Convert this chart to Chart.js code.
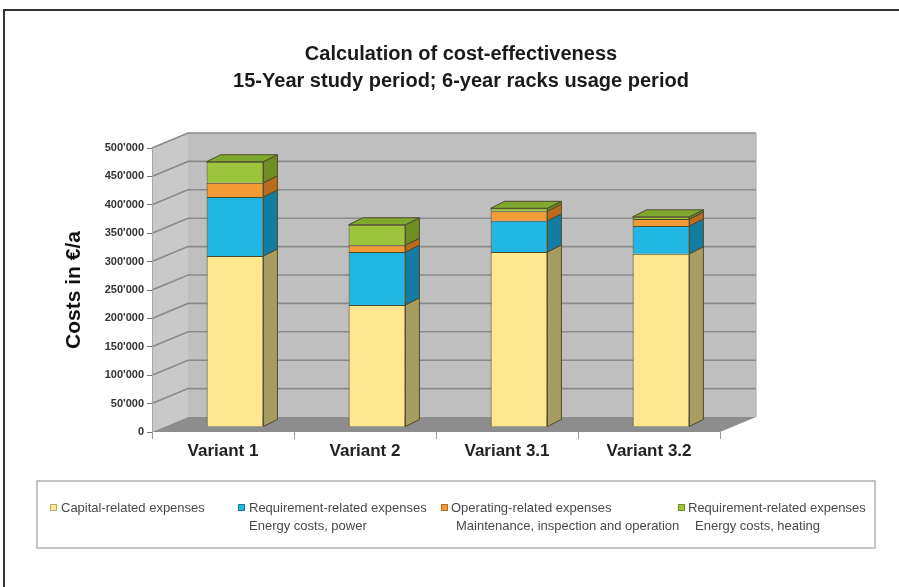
<!DOCTYPE html>
<html><head><meta charset="utf-8">
<script src="https://cdn.jsdelivr.net/npm/chart.js@4.4.0/dist/chart.umd.min.js"></script>
<style>html,body{margin:0;padding:0;background:#fff;}canvas{display:block;}</style>
</head><body>
<canvas id="c" width="899" height="587"></canvas>
<script>
const categories = ['Variant 1', 'Variant 2', 'Variant 3.1', 'Variant 3.2'];
const capital   = [301000, 215000, 308000, 305000];
const power     = [104000,  93000,  55000,  49000];
const operating = [ 25000,  12000,  17000,  12000];
const heating   = [ 37000,  36000,   5000,   4000];
const seriesNames = ['Capital-related expenses', 'Requirement-related expenses', 'Operating-related expenses', 'Requirement-related expenses'];
const seriesSub   = ['', 'Energy costs, power', 'Maintenance, inspection and operation', 'Energy costs, heating'];
const titleLines = ['Calculation of cost-effectiveness', '15-Year study period; 6-year racks usage period'];
const yTitle = 'Costs in €/a';
const yMax = 500000, yStep = 50000;

const FONT = "'Liberation Sans', Arial, Helvetica, sans-serif";
Chart.defaults.font.family = FONT;

const frontColors = ['#FFE68F', '#22B6E4', '#F39B34', '#9DC43B'];
const sideColors  = ['#A79D63', '#137CA2', '#B96B1E', '#6E8E24'];
const topColors   = ['#E9D27A', '#1A9CC8', '#D9832A', '#7FA82E'];
const edgeColor = '#4f4a2a';

const depth = {x: 36, y: -15};
const barShift = {x: 12, y: -5};
const barDepth = {x: 14, y: -7};

function fmt(v) { return String(v).replace(/\B(?=(\d{3})+(?!\d))/g, "'"); }

const threeD = {
  id: 'threeD',
  beforeDatasetsDraw(chart) {
    const ctx = chart.ctx, a = chart.chartArea, ys = chart.scales.y;
    const L = a.left, R = a.right, T = ys.getPixelForValue(yMax), B = ys.getPixelForValue(0);
    ctx.save();
    // left wall
    ctx.fillStyle = '#c9c9c9';
    ctx.beginPath();
    ctx.moveTo(L, B); ctx.lineTo(L, T); ctx.lineTo(L + depth.x, T + depth.y); ctx.lineTo(L + depth.x, B + depth.y); ctx.closePath();
    ctx.fill();
    // back wall
    ctx.fillStyle = '#bfbfbf';
    ctx.fillRect(L + depth.x, T + depth.y, R - L, B - T);
    // floor
    ctx.fillStyle = '#8d8d8d';
    ctx.beginPath();
    ctx.moveTo(L, B); ctx.lineTo(R, B); ctx.lineTo(R + depth.x, B + depth.y); ctx.lineTo(L + depth.x, B + depth.y); ctx.closePath();
    ctx.fill();
    // gridlines
    ctx.strokeStyle = '#8a8a8a';
    ctx.lineWidth = 1.6;
    for (let v = yStep; v <= yMax; v += yStep) {
      const y = ys.getPixelForValue(v);
      ctx.beginPath();
      ctx.moveTo(L, y); ctx.lineTo(L + depth.x, y + depth.y); ctx.lineTo(R + depth.x, y + depth.y);
      ctx.stroke();
    }
    // wall edges
    ctx.strokeStyle = '#a8a8a8';
    ctx.lineWidth = 1;
    ctx.beginPath();
    ctx.moveTo(L + 0.5, B); ctx.lineTo(L + 0.5, T);
    ctx.moveTo(R + depth.x, T + depth.y); ctx.lineTo(R + depth.x, B + depth.y);
    ctx.stroke();
    ctx.restore();
    ctx.save();
    ctx.translate(barShift.x, barShift.y);
  },
  afterDatasetsDraw(chart) {
    const ctx = chart.ctx;
    const n = chart.data.datasets.length;
    for (let d = 0; d < n; d++) {
      const meta = chart.getDatasetMeta(d);
      meta.data.forEach((el, i) => {
        const p = el.getProps(['x', 'y', 'base', 'width'], true);
        const left = p.x - p.width / 2, right = p.x + p.width / 2;
        const top = Math.min(p.y, p.base), bottom = Math.max(p.y, p.base);
        ctx.lineWidth = 1;
        ctx.strokeStyle = edgeColor;
        ctx.fillStyle = sideColors[d];
        ctx.beginPath();
        ctx.moveTo(right, bottom); ctx.lineTo(right + barDepth.x, bottom + barDepth.y);
        ctx.lineTo(right + barDepth.x, top + barDepth.y); ctx.lineTo(right, top); ctx.closePath();
        ctx.fill(); ctx.stroke();
        if (d === n - 1) {
          ctx.fillStyle = topColors[d];
          ctx.beginPath();
          ctx.moveTo(left, top); ctx.lineTo(left + barDepth.x, top + barDepth.y);
          ctx.lineTo(right + barDepth.x, top + barDepth.y); ctx.lineTo(right, top); ctx.closePath();
          ctx.fill(); ctx.stroke();
        }
      });
    }
    ctx.restore();
  },
  afterDraw(chart) {
    const ctx = chart.ctx;
    ctx.save();
    // frame
    ctx.strokeStyle = '#333';
    ctx.lineWidth = 2;
    ctx.beginPath();
    ctx.moveTo(4, 600); ctx.lineTo(4, 10); ctx.lineTo(910, 10);
    ctx.stroke();
    // title
    ctx.fillStyle = '#1a1a1a';
    ctx.font = 'bold 20px ' + FONT;
    ctx.textAlign = 'center';
    ctx.textBaseline = 'middle';
    ctx.fillText(titleLines[0], 461, 54);
    ctx.fillText(titleLines[1], 461, 81);
    // legend box
    ctx.strokeStyle = '#b4b4b4';
    ctx.lineWidth = 1.5;
    ctx.strokeRect(37, 481, 838, 67);
    const pos = [{mx: 50, tx: 61, t2x: 61}, {mx: 238, tx: 249, t2x: 249}, {mx: 441, tx: 451, t2x: 456}, {mx: 678, tx: 688, t2x: 695}];
    ctx.font = '13px ' + FONT;
    ctx.textAlign = 'left';
    for (let i = 0; i < seriesNames.length; i++) {
      const q = pos[i];
      ctx.fillStyle = frontColors[i];
      ctx.fillRect(q.mx, 504, 7, 7);
      ctx.strokeStyle = i === 0 ? '#b9ad74' : sideColors[i];
      ctx.lineWidth = 1;
      ctx.strokeRect(q.mx + 0.5, 504.5, 6, 6);
      ctx.fillStyle = '#4a4a4a';
      ctx.fillText(seriesNames[i], q.tx, 508);
      if (seriesSub[i]) ctx.fillText(seriesSub[i], q.t2x, 526);
    }
    ctx.restore();
  }
};

const series = [capital, power, operating, heating];
new Chart(document.getElementById('c'), {
  type: 'bar',
  data: {
    labels: categories,
    datasets: series.map((s, i) => ({
      label: seriesNames[i] + (seriesSub[i] ? ' ' + seriesSub[i] : ''),
      data: s,
      backgroundColor: frontColors[i],
      borderColor: edgeColor,
      borderWidth: 1,
      barPercentage: 0.4,
      categoryPercentage: 1,
      clip: false
    }))
  },
  options: {
    responsive: false,
    animation: false,
    layout: {padding: {left: 62, right: 179, top: 148, bottom: 0}},
    plugins: {legend: {display: false}, title: {display: false}, tooltip: {enabled: false}},
    scales: {
      x: {
        stacked: true,
        offset: true,
        grid: {offset: true, drawOnChartArea: false, drawTicks: true, tickLength: 7, color: '#9a9a9a'},
        border: {display: false},
        ticks: {font: {size: 17, weight: 'bold'}, color: '#222', padding: 2},
        afterFit(s) { s.height = 155; }
      },
      y: {
        stacked: true,
        min: 0, max: yMax,
        ticks: {stepSize: yStep, callback: fmt, font: {size: 11, weight: 'bold'}, color: '#333', padding: 3},
        grid: {drawOnChartArea: false, tickLength: 5, color: '#777'},
        border: {display: false},
        title: {display: true, text: yTitle, font: {size: 21, weight: 'bold'}, color: '#111', padding: {top: 0, bottom: 0}},
        afterFit(s) { s.width = 90; }
      }
    }
  },
  plugins: [threeD]
});
</script>
</body></html>
